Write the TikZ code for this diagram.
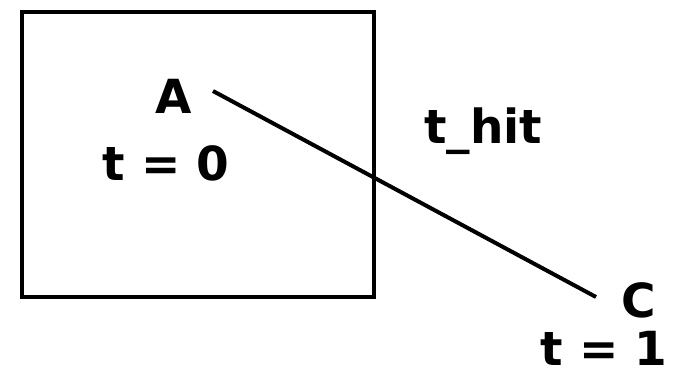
\documentclass[tikz,border=0pt]{standalone}
\usepackage{fontspec}
\setmainfont{DejaVu Sans}
\begin{document}
\begin{tikzpicture}[x=1pt,y=-1pt,
  lbl/.style={inner sep=0pt,anchor=base west,text depth=0pt,font=\fontsize{47}{50}\selectfont\bfseries},
  thick4/.style={line width=4pt}]
\useasboundingbox (0,0) rectangle (674,376);
\node[draw,thick4,minimum width=352pt,minimum height=285pt,anchor=north west,inner sep=0pt] (box) at (20,10) {};
\node[lbl] (A) at (155,113) {A};
\node[lbl] (t0) at (102,180) {t = 0};
\node[lbl] (thit) at (424,143) {t\_hit};
\node[lbl] (C) at (621,317) {C};
\node[lbl] (t1) at (540,365) {t = 1};
\coordinate (p) at (213,91);
\coordinate (q) at (596,297);
\draw[thick4] (p) -- (q);
\end{tikzpicture}
\end{document}
